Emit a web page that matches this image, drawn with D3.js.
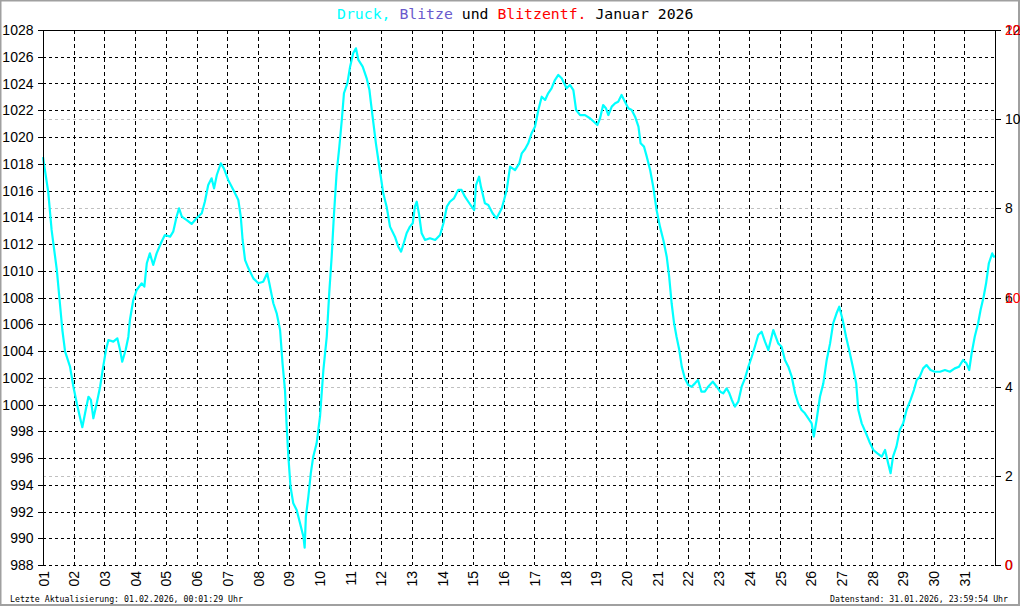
<!DOCTYPE html>
<html><head><meta charset="utf-8">
<script src="https://cdn.jsdelivr.net/npm/d3@7"></script>
<style>html,body{margin:0;padding:0;background:#fff;}svg{display:block;}</style>
</head><body>
<svg id="c" width="1020" height="606"></svg>
<script>
// ---- data ----
const dayLabels = ["01","02","03","04","05","06","07","08","09","10","11","12","13","14","15","16","17","18","19","20","21","22","23","24","25","26","27","28","29","30","31"];
const leftTicks = [988,990,992,994,996,998,1000,1002,1004,1006,1008,1010,1012,1014,1016,1018,1020,1022,1024,1026,1028];
const rightTicks = [0,2,4,6,8,10,12];
const redTicks = [0,10,20];
// time in days since 01.01. 00:00
const times = [0.00,0.17,0.28,0.45,0.55,0.63,0.72,0.88,0.99,1.10,1.20,1.28,1.37,1.48,1.56,1.64,1.75,1.86,1.96,2.05,2.13,2.29,2.42,2.51,2.58,2.69,2.78,2.83,2.94,3.05,3.21,3.30,3.38,3.48,3.59,3.70,3.86,3.97,4.14,4.24,4.35,4.43,4.52,4.68,4.84,5.00,5.17,5.27,5.38,5.49,5.57,5.66,5.79,5.89,6.03,6.20,6.36,6.44,6.50,6.58,6.69,6.85,7.01,7.17,7.30,7.37,7.50,7.61,7.72,7.80,7.88,7.93,7.99,8.06,8.15,8.26,8.37,8.48,8.52,8.56,8.64,8.72,8.80,8.91,9.02,9.13,9.24,9.32,9.40,9.47,9.56,9.65,9.73,9.80,9.91,10.00,10.10,10.19,10.27,10.41,10.54,10.63,10.68,10.76,10.84,10.92,11.00,11.08,11.19,11.30,11.46,11.57,11.66,11.73,11.84,11.95,12.04,12.11,12.17,12.24,12.33,12.44,12.60,12.77,12.93,13.04,13.15,13.25,13.38,13.52,13.63,13.74,13.85,13.96,14.04,14.10,14.20,14.26,14.39,14.50,14.64,14.77,14.94,15.10,15.21,15.37,15.51,15.59,15.70,15.80,15.91,16.02,16.13,16.24,16.35,16.45,16.56,16.67,16.78,16.89,17.05,17.16,17.27,17.36,17.49,17.65,17.81,17.94,18.05,18.14,18.24,18.33,18.41,18.52,18.63,18.73,18.84,18.95,19.06,19.17,19.28,19.39,19.46,19.57,19.66,19.77,19.87,19.98,20.09,20.20,20.31,20.39,20.47,20.55,20.63,20.72,20.80,20.90,21.01,21.12,21.23,21.33,21.44,21.55,21.66,21.81,21.94,22.05,22.15,22.26,22.35,22.43,22.53,22.64,22.75,22.86,22.97,23.08,23.18,23.29,23.40,23.51,23.62,23.78,23.94,24.05,24.16,24.27,24.38,24.49,24.59,24.70,24.81,24.92,25.03,25.10,25.19,25.30,25.41,25.52,25.63,25.73,25.84,25.93,26.04,26.15,26.25,26.37,26.48,26.55,26.66,26.80,26.91,27.04,27.17,27.31,27.42,27.52,27.60,27.68,27.79,27.90,28.01,28.12,28.25,28.36,28.45,28.55,28.66,28.77,28.90,29.04,29.21,29.37,29.53,29.69,29.83,29.96,30.07,30.16,30.24,30.34,30.45,30.53,30.63,30.71,30.80,30.91,30.96,31.00];
const pressure = [1018.5,1015.9,1013.05,1010.06,1007.57,1005.57,1003.95,1002.83,1001.33,1000.09,999.09,998.3,999.34,1000.58,1000.34,998.97,1000.09,1001.33,1002.83,1004.07,1004.82,1004.70,1004.95,1004.07,1003.2,1004.07,1005.07,1006.32,1007.81,1008.56,1009.06,1008.81,1010.56,1011.3,1010.43,1011.3,1012.17,1012.67,1012.55,1012.92,1014.04,1014.67,1014.04,1013.79,1013.5,1013.92,1014.3,1015.16,1016.41,1016.91,1016.16,1017.16,1018.03,1017.66,1016.79,1016.04,1015.29,1014.04,1012.3,1010.8,1010.18,1009.43,1009.06,1009.18,1009.81,1009.06,1007.57,1006.82,1005.57,1003.08,1001.08,998.59,996.1,993.85,992.61,992.11,991.12,990.12,989.3,991.61,993.1,994.85,996.1,997.1,999.09,1002.58,1005.07,1008.31,1011.05,1014.04,1017.28,1019.28,1021.27,1023.27,1024.01,1025.26,1026.26,1026.63,1025.76,1025.26,1024.39,1023.51,1022.52,1021.02,1019.53,1018.28,1017.03,1015.79,1014.79,1013.3,1012.55,1011.8,1011.43,1011.93,1012.8,1013.3,1013.55,1014.79,1015.16,1014.3,1012.8,1012.3,1012.43,1012.3,1012.67,1013.55,1014.79,1015.16,1015.41,1016.04,1016.04,1015.54,1015.16,1014.79,1014.54,1016.41,1017.03,1016.29,1015.04,1014.92,1014.3,1013.92,1014.67,1016.04,1017.78,1017.53,1018.03,1018.78,1019.1,1019.53,1020.28,1020.77,1022.02,1023.01,1022.77,1023.27,1023.64,1024.26,1024.64,1024.39,1023.64,1023.89,1023.51,1022.02,1021.64,1021.64,1021.4,1021.14,1020.9,1021.4,1022.39,1022.15,1021.64,1022.27,1022.52,1022.64,1023.14,1022.64,1022.15,1022.02,1021.52,1020.77,1019.53,1019.28,1018.53,1017.53,1016.29,1014.54,1013.3,1012.3,1011.05,1009.56,1007.57,1006.07,1005.07,1004.07,1002.83,1001.96,1001.46,1001.33,1001.58,1001.83,1000.96,1000.96,1001.33,1001.71,1001.33,1000.96,1000.84,1001.21,1000.84,1000.34,999.84,1000.21,1001.33,1001.96,1002.83,1003.57,1004.32,1005.2,1005.44,1004.7,1004.07,1005.57,1004.57,1004.32,1003.33,1002.83,1002.08,1000.84,1000.09,999.59,999.34,998.97,998.59,997.6,998.84,1000.58,1001.58,1003.33,1004.57,1006.07,1006.82,1007.31,1006.32,1005.07,1004.07,1002.83,1001.58,999.59,998.59,997.85,997.22,996.6,996.35,996.1,996.6,995.6,994.86,996.1,996.85,998.09,998.59,999.59,1000.34,1001.08,1001.83,1002.08,1002.7,1002.95,1002.58,1002.45,1002.45,1002.58,1002.45,1002.7,1002.83,1003.33,1003.08,1002.58,1003.83,1005.07,1006.07,1007.07,1008.06,1009.06,1010.56,1011.3,1011.05,1011.1];

// ---- drawing ----
const W = 1020, H = 606;
const L = 43, R = 995, T = 30, B = 565;
const svg = d3.select("#c");
const x = d3.scaleLinear().domain([0, dayLabels.length]).range([L, R]);
const y = d3.scaleLinear().domain([988, 1028]).range([B, T]);
const yR = d3.scaleLinear().domain([0, 12]).range([B, T]);
const yRed = d3.scaleLinear().domain([0, 20]).range([B, T]);

svg.append("rect").attr("x",0).attr("y",0).attr("width",W).attr("height",H).attr("fill","#fff");
svg.append("rect").attr("x",0.5).attr("y",0.5).attr("width",W-1.5).attr("height",H-1.5)
  .attr("fill","none").attr("stroke","#a0a0a0").attr("stroke-width",2);

// light grey lines at right-axis ticks
svg.append("g").selectAll("line").data(rightTicks.filter(v => v > 0 && v < 12)).join("line")
  .attr("x1", L).attr("x2", R)
  .attr("y1", d => Math.round(yR(d)) + 0.5).attr("y2", d => Math.round(yR(d)) + 0.5)
  .attr("stroke", "#c0c0c0").attr("stroke-dasharray", "3,3");

// horizontal dashed grid
svg.append("g").selectAll("line").data(leftTicks.filter(v => v < 1028)).join("line")
  .attr("x1", L).attr("x2", R)
  .attr("y1", d => Math.round(y(d)) + 0.5).attr("y2", d => Math.round(y(d)) + 0.5)
  .attr("stroke", "#000").attr("stroke-dasharray", "3,3");

// vertical dashed grid
svg.append("g").selectAll("line").data(d3.range(1, dayLabels.length)).join("line")
  .attr("x1", d => Math.round(x(d)) + 0.5).attr("x2", d => Math.round(x(d)) + 0.5)
  .attr("y1", T).attr("y2", B)
  .attr("stroke", "#000").attr("stroke-dasharray", "4,3");

// pressure line
const pts = times.map((t, i) => [t, pressure[i]]);
svg.append("path").datum(pts)
  .attr("d", d3.line().x(d => x(d[0])).y(d => y(d[1])))
  .attr("fill", "none").attr("stroke", "#00ffff").attr("stroke-width", 2.2).attr("stroke-linejoin","round");

// axes (solid lines)
svg.append("line").attr("x1", L+0.5).attr("x2", L+0.5).attr("y1", T).attr("y2", B).attr("stroke", "#000");
svg.append("line").attr("x1", R+0.5).attr("x2", R+0.5).attr("y1", T).attr("y2", B+0.5).attr("stroke", "#000");
svg.append("line").attr("x1", L).attr("x2", R+1).attr("y1", T+0.5).attr("y2", T+0.5).attr("stroke", "#000");

// left axis ticks & labels
const gl = svg.append("g");
gl.selectAll("line").data(leftTicks).join("line")
  .attr("x1", L-5).attr("x2", L).attr("y1", d => Math.round(y(d))+0.5).attr("y2", d => Math.round(y(d))+0.5)
  .attr("stroke", "#000");
gl.selectAll("text").data(leftTicks).join("text")
  .attr("x", 33.5).attr("y", d => y(d)).attr("dy", "0.36em")
  .attr("text-anchor", "end")
  .style("font-family", "'Liberation Sans', Arial, sans-serif").style("font-size", "14px")
  .text(d => d);

// right axis ticks & labels
const gr = svg.append("g");
gr.selectAll("line").data(rightTicks).join("line")
  .attr("x1", R).attr("x2", R+6).attr("y1", d => Math.round(yR(d))+0.5).attr("y2", d => Math.round(yR(d))+0.5)
  .attr("stroke", "#000");
gr.selectAll("text.blk").data(rightTicks).join("text").attr("class","blk")
  .attr("x", 1005).attr("y", d => yR(d)).attr("dy", "0.36em")
  .style("font-family", "'Liberation Sans', Arial, sans-serif").style("font-size", "14px")
  .text(d => d);
gr.selectAll("text.red").data(redTicks).join("text").attr("class","red")
  .attr("x", 1005).attr("y", d => yRed(d)).attr("dy", "0.36em")
  .attr("fill", "#ff0000")
  .style("font-family", "'Liberation Sans', Arial, sans-serif").style("font-size", "14px")
  .text(d => d);

// x labels (rotated)
svg.append("g").selectAll("text").data(dayLabels).join("text")
  .attr("transform", (d, i) => `translate(${x(i)+0.5},571) rotate(-90)`)
  .attr("text-anchor", "end").attr("dy", "0.36em")
  .style("font-family", "'Liberation Sans', Arial, sans-serif").style("font-size", "14px")
  .text(d => d);

// title
const title = svg.append("text").attr("x", 337).attr("y", 18.5)
  .style("font-family", "'DejaVu Sans Mono', 'Liberation Mono', monospace").style("font-size", "14.8px");
title.append("tspan").attr("fill", "#00ffff").text("Druck,");
title.append("tspan").attr("fill", "#000").text(" ");
title.append("tspan").attr("fill", "#6a5acd").text("Blitze");
title.append("tspan").attr("fill", "#000").text(" und ");
title.append("tspan").attr("fill", "#ff0000").text("Blitzentf.");
title.append("tspan").attr("fill", "#000").text(" Januar 2026");

// footers
svg.append("text").attr("x", 10).attr("y", 602)
  .attr("textLength", 233).attr("lengthAdjust", "spacingAndGlyphs")
  .style("font-family", "'DejaVu Sans Mono', monospace").style("font-size", "8.6px")
  .text("Letzte Aktualisierung: 01.02.2026, 00:01:29 Uhr");
svg.append("text").attr("x", 1008).attr("y", 602).attr("text-anchor", "end")
  .attr("textLength", 178).attr("lengthAdjust", "spacingAndGlyphs")
  .style("font-family", "'DejaVu Sans Mono', monospace").style("font-size", "8.6px")
  .text("Datenstand: 31.01.2026, 23:59:54 Uhr");
</script>
</body></html>
